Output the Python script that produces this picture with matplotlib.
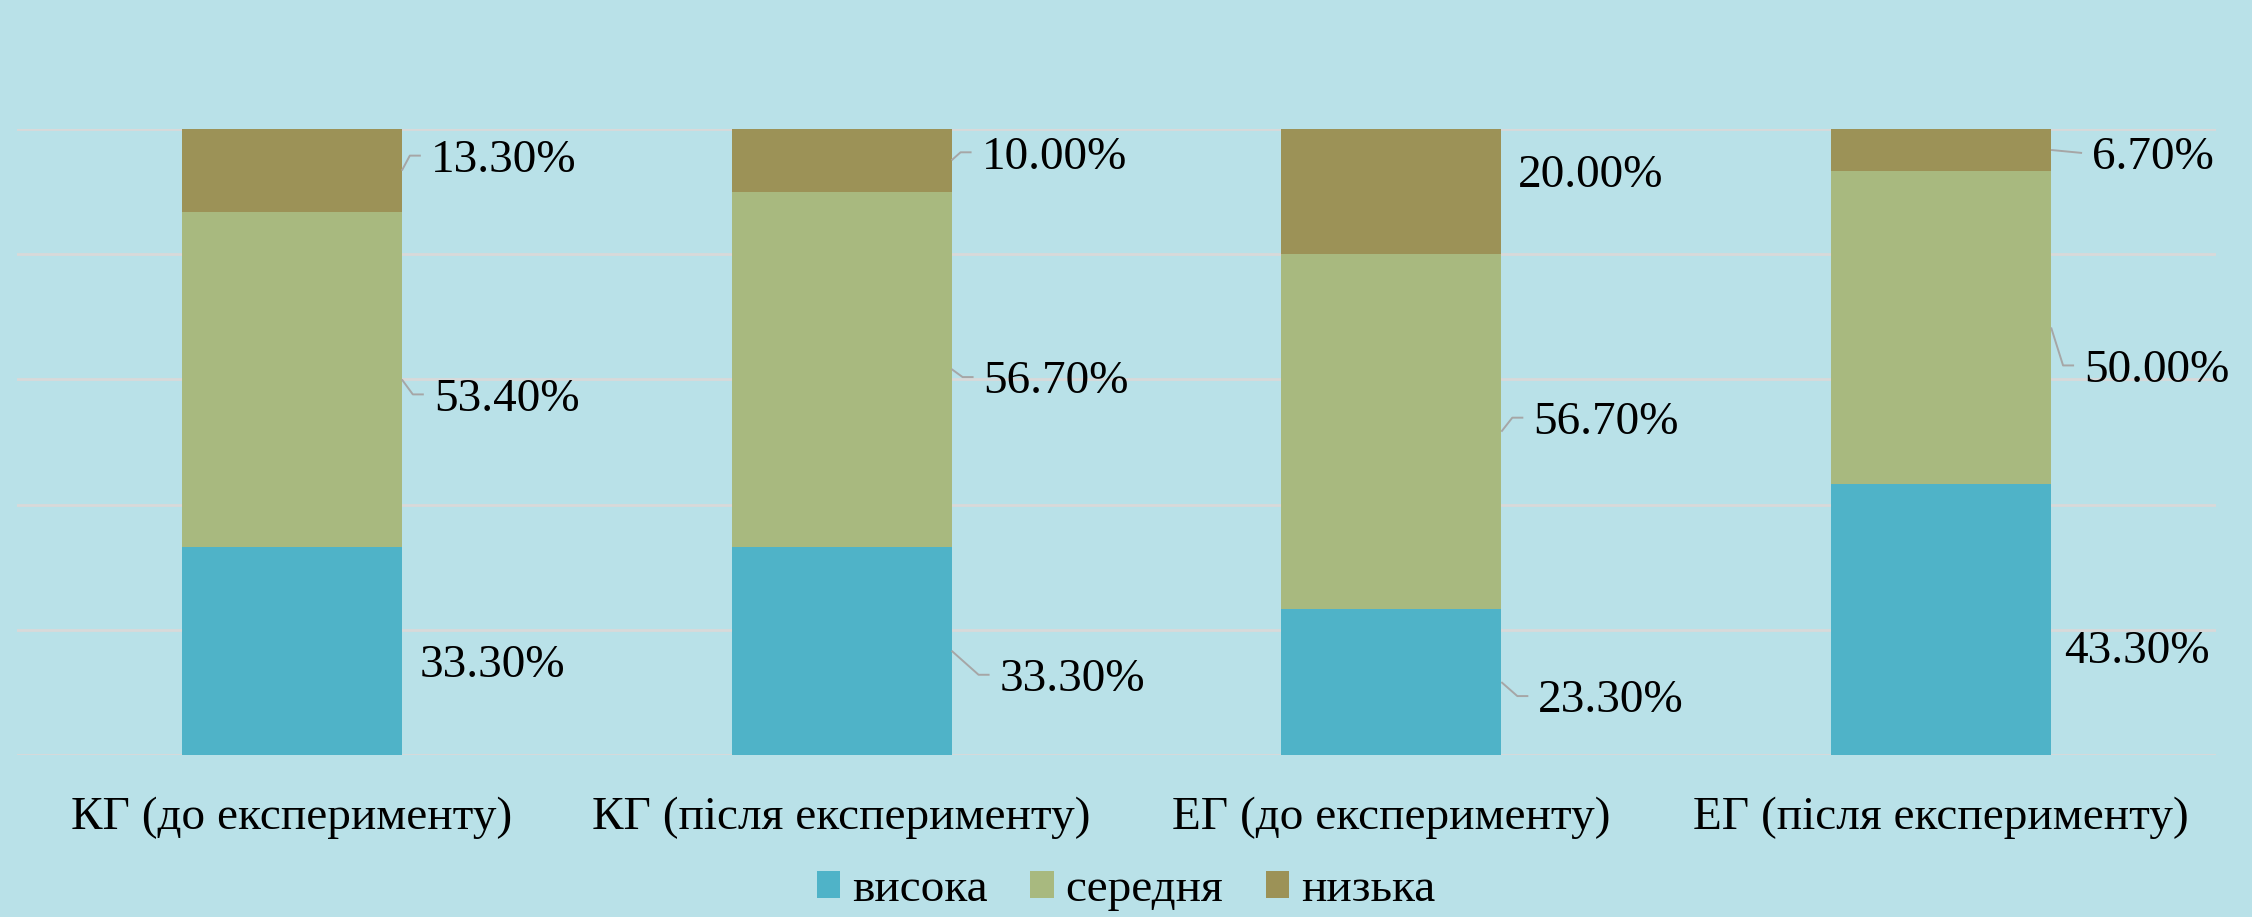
import matplotlib
matplotlib.use("Agg")
import matplotlib.pyplot as plt
import numpy as np

categories = ["КГ (до експерименту)", "КГ (після експерименту)",
              "ЕГ (до експерименту)", "ЕГ (після експерименту)"]
series_names = ["висока", "середня", "низька"]
high = [33.3, 33.3, 23.3, 43.3]
mid = [53.4, 56.7, 56.7, 50.0]
low = [13.3, 10.0, 20.0, 6.7]
labels_high = ["33.30%", "33.30%", "23.30%", "43.30%"]
labels_mid = ["53.40%", "56.70%", "56.70%", "50.00%"]
labels_low = ["13.30%", "10.00%", "20.00%", "6.70%"]

colors = ["#4FB3C8", "#A8B97F", "#9C9257"]
bg = "#B9E1E8"

# label placement (pixels): dx from bar right edge, dy (up) from segment centre, leader flag
place_high = [(18, -10, False), (48, -24, True), (37, -14, True), (13, -27, False)]
place_mid = [(32, -15, True), (32, -8, True), (32, 14, True), (33, -38, True)]
place_low = [(29, 15, True), (30, 8, True), (17, 21, False), (41, -3, True)]

plt.rcParams['font.family'] = ['Liberation Serif', 'DejaVu Serif']
FS = 34
DPI = 100
fig = plt.figure(figsize=(22.52, 9.17), dpi=DPI, facecolor=bg)
ax = fig.add_axes([17/2252, 1-755/917, (2216-17)/2252, (755-129)/917])
ax.set_facecolor(bg)
ax.set_xlim(-0.5, 3.5)
ax.set_ylim(0, 100)

x = np.arange(len(categories))
w = 0.4
bottoms = np.zeros(len(categories))
series = [high, mid, low]
labels_all = [labels_high, labels_mid, labels_low]
places = [place_high, place_mid, place_low]
leaders = []
for vals, name, col, labs, plc in zip(series, series_names, colors, labels_all, places):
    vals = np.array(vals)
    ax.bar(x, vals, w, bottom=bottoms, color=col, label=name, zorder=3)
    centers = bottoms + vals / 2
    for i in range(len(x)):
        dx, dy, leader = plc[i]
        xr = x[i] + w / 2
        yc = centers[i]
        ax.annotate(labs[i], xy=(xr, yc), xytext=(dx * 72 / DPI, dy * 72 / DPI),
                    textcoords='offset points', ha='left', va='center_baseline',
                    fontsize=FS, color='black', zorder=5)
        if leader:
            leaders.append((xr, yc, dx, dy))
    bottoms = bottoms + vals

ax.set_xlim(-0.5, 3.5)
ax.set_ylim(0, 100)
trans = ax.transData
inv = trans.inverted()
for xr, yc, dx, dy in leaders:
    px0, py0 = trans.transform((xr, yc))
    if abs(dy) < 5:
        pts_px = [(px0, py0), (px0 + dx - 10, py0 + dy)]
    else:
        pts_px = [(px0, py0), (px0 + dx - 21, py0 + dy), (px0 + dx - 10, py0 + dy)]
    pts = inv.transform(pts_px)
    ax.plot(pts[:, 0], pts[:, 1], color='#A6A6A6', lw=1.4, zorder=4,
            solid_capstyle='butt', clip_on=False)

ax.set_yticks([0, 20, 40, 60, 80, 100])
ax.set_yticklabels([])
ax.tick_params(axis='y', length=0)
ax.tick_params(axis='x', length=0, pad=30, labelsize=FS)
ax.set_xticks(x)
ax.set_xticklabels(categories)
ax.grid(axis='y', color='#D9D9D9', lw=2, zorder=0)
for s in ax.spines.values():
    s.set_visible(False)

leg = fig.legend(loc='center', bbox_to_anchor=(0.5, 1-890/917), ncol=3, frameon=False,
                 fontsize=FS, handlelength=0.5, handleheight=0.5, handletextpad=0.25,
                 columnspacing=0.9, borderaxespad=0)

fig.savefig("out.png", dpi=DPI, facecolor=bg)
